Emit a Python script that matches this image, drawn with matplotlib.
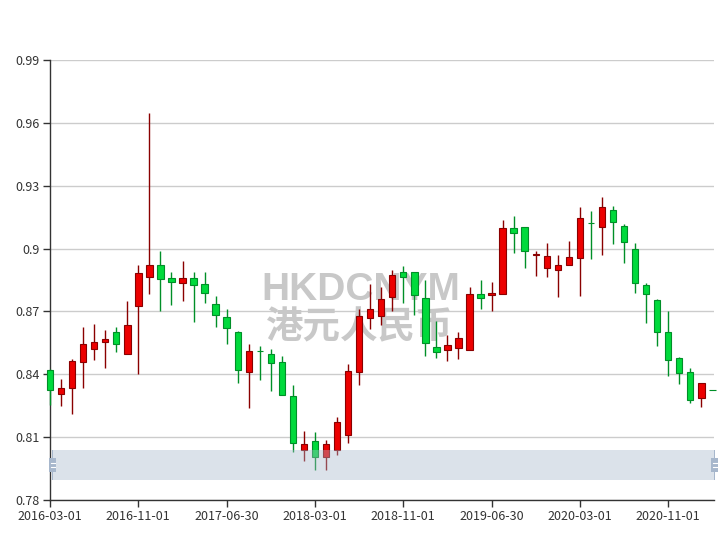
import matplotlib
matplotlib.use("Agg")
import matplotlib.pyplot as plt
from matplotlib.patches import Rectangle

plt.rcParams['font.family'] = ['Noto Sans CJK SC', 'DejaVu Sans']

# ---- data (monthly candles, 2016-03 .. 2021-03) ----
opens = [0.8419, 0.8304, 0.8336, 0.8460, 0.8519, 0.8553, 0.8600, 0.8495, 0.8726, 0.8863,
         0.8922, 0.8858, 0.8836, 0.8858, 0.8831, 0.8734, 0.8672, 0.8600, 0.8411, 0.8511,
         0.8495, 0.8457, 0.8296, 0.8039, 0.8082, 0.8007, 0.8039, 0.8110, 0.8412, 0.8670,
         0.8680, 0.8767, 0.8887, 0.8888, 0.8764, 0.8532, 0.8516, 0.8527, 0.8516, 0.8783,
         0.8780, 0.8782, 0.9098, 0.9103, 0.8969, 0.8906, 0.8899, 0.8920, 0.8956, 0.9124,
         0.9104, 0.9183, 0.9108, 0.8998, 0.8828, 0.8755, 0.8600, 0.8478, 0.8409, 0.8285,
         0.8326]
closes = [0.8326, 0.8336, 0.8463, 0.8543, 0.8553, 0.8570, 0.8543, 0.8635, 0.8882, 0.8922,
          0.8856, 0.8839, 0.8858, 0.8828, 0.8786, 0.8684, 0.8619, 0.8419, 0.8510, 0.8509,
          0.8454, 0.8300, 0.8071, 0.8067, 0.8007, 0.8067, 0.8172, 0.8416, 0.8678, 0.8712,
          0.8758, 0.8872, 0.8863, 0.8777, 0.8551, 0.8508, 0.8538, 0.8575, 0.8783, 0.8763,
          0.8786, 0.9100, 0.9076, 0.8988, 0.8974, 0.8963, 0.8922, 0.8958, 0.9144, 0.9122,
          0.9198, 0.9125, 0.9033, 0.8836, 0.8785, 0.8600, 0.8470, 0.8405, 0.8279, 0.8360,
          0.8324]
highs = [0.8425, 0.8379, 0.8471, 0.8624, 0.8640, 0.8610, 0.8624, 0.8748, 0.8922, 0.9646,
         0.8987, 0.8888, 0.8941, 0.8888, 0.8888, 0.8775, 0.8712, 0.8608, 0.8545, 0.8535,
         0.8521, 0.8489, 0.8347, 0.8129, 0.8123, 0.8086, 0.8195, 0.8449, 0.8710, 0.8831,
         0.8818, 0.8898, 0.8917, 0.8888, 0.8850, 0.8654, 0.8586, 0.8602, 0.8815, 0.8850,
         0.8840, 0.9136, 0.9157, 0.9103, 0.8988, 0.9025, 0.8971, 0.9036, 0.9200, 0.9179,
         0.9245, 0.9203, 0.9119, 0.9025, 0.8834, 0.8761, 0.8702, 0.8484, 0.8430, 0.8360,
         0.8326]
lows = [0.8253, 0.8250, 0.8210, 0.8336, 0.8468, 0.8431, 0.8508, 0.8495, 0.8400, 0.8783,
        0.8702, 0.8731, 0.8751, 0.8650, 0.8739, 0.8624, 0.8546, 0.8360, 0.8241, 0.8373,
        0.8322, 0.8300, 0.8029, 0.7988, 0.7943, 0.7943, 0.8016, 0.8073, 0.8349, 0.8618,
        0.8637, 0.8701, 0.8739, 0.8684, 0.8489, 0.8479, 0.8465, 0.8471, 0.8516, 0.8712,
        0.8702, 0.8782, 0.8979, 0.8909, 0.8868, 0.8866, 0.8770, 0.8920, 0.8774, 0.8950,
        0.8968, 0.9023, 0.8933, 0.8789, 0.8646, 0.8536, 0.8392, 0.8352, 0.8264, 0.8245,
        0.8324]

x_tick_labels = ["2016-03-01", "2016-11-01", "2017-06-30", "2018-03-01",
                 "2018-11-01", "2019-06-30", "2020-03-01", "2020-11-01"]
y_ticks = [0.78, 0.81, 0.84, 0.87, 0.90, 0.93, 0.96, 0.99]
y_tick_labels = ["0.78", "0.81", "0.84", "0.87", "0.9", "0.93", "0.96", "0.99"]

UP_FILL, UP_EDGE = '#ec0000', '#8A0000'
DN_FILL, DN_EDGE = '#00da3c', '#008F28'

fig = plt.figure(figsize=(7.2, 5.4), dpi=100)
ax = fig.add_axes([49.5 / 720, 40 / 540, 664.5 / 720, 440 / 540])

n = len(highs)
w = 0.58
for i in range(n):
    o, c, h, l = opens[i], closes[i], highs[i], lows[i]
    up = c > o
    fill = UP_FILL if up else DN_FILL
    edge = UP_EDGE if up else DN_EDGE
    ax.vlines(i, l, h, color=edge, lw=1.0, zorder=3, clip_on=False)
    lo, hi = min(o, c), max(o, c)
    ax.add_patch(Rectangle((i - w / 2, lo), w, hi - lo, facecolor=fill,
                           edgecolor=edge, lw=0.8, zorder=4, clip_on=False))

ax.set_xlim(-0.05, 60.15)
ax.set_ylim(0.78, 0.99)

ax.set_yticks(y_ticks)
ax.set_yticklabels(y_tick_labels)
ax.set_xticks(list(range(0, 8 * len(x_tick_labels), 8)))
ax.set_xticklabels(x_tick_labels)

ax.grid(axis='y', color='#cccccc', lw=1.0, zorder=0)
ax.set_axisbelow(True)
for s in ['top', 'right']:
    ax.spines[s].set_visible(False)
for s in ['left', 'bottom']:
    ax.spines[s].set_color('#333333')
    ax.spines[s].set_linewidth(1.0)
ax.tick_params(axis='both', colors='#333333', labelcolor='#333333',
               labelsize=9, length=5, width=1.0, pad=2)


def ax_x(px):
    return (px - 49.5) / 664.5


def ax_y(py):
    return (500 - py) / 440


# watermark
ax.text(ax_x(361), ax_y(290), "HKDCNYM", transform=ax.transAxes,
        ha='center', va='center', fontsize=28, fontweight='bold',
        family=['Liberation Sans', 'Noto Sans CJK SC'], color='#c8c8c8', zorder=2)
ax.text(ax_x(360), ax_y(327), "港元人民币", transform=ax.transAxes,
        ha='center', va='center', fontsize=27, fontweight='bold',
        family=['Noto Sans CJK SC', 'DejaVu Sans'], color='#c8c8c8', zorder=2)

# data-zoom slider
ax.add_patch(Rectangle((ax_x(52), ax_y(480)), ax_x(714) - ax_x(52), ax_y(450) - ax_y(480),
                       transform=ax.transAxes, facecolor=(167/255, 183/255, 204/255, 0.4),
                       edgecolor='none', zorder=6, clip_on=False))
for hx in (52.5, 714.5):
    ax.add_patch(Rectangle((ax_x(hx - 0.8), ax_y(480)), ax_x(hx + 0.8) - ax_x(hx - 0.8),
                           ax_y(450) - ax_y(480), transform=ax.transAxes,
                           facecolor='#a7b7cc', edgecolor='none', zorder=7, clip_on=False))
    ax.add_patch(Rectangle((ax_x(hx - 3.5), ax_y(472)), ax_x(hx + 3.5) - ax_x(hx - 3.5),
                           ax_y(458) - ax_y(472), transform=ax.transAxes,
                           facecolor='#a7b7cc', edgecolor='none', zorder=7, clip_on=False))
    for ly in (463, 467):
        ax.plot([ax_x(hx - 2), ax_x(hx + 2)], [ax_y(ly), ax_y(ly)], transform=ax.transAxes,
                color='white', lw=0.8, zorder=8, clip_on=False)

fig.savefig("out.png", dpi=100)
